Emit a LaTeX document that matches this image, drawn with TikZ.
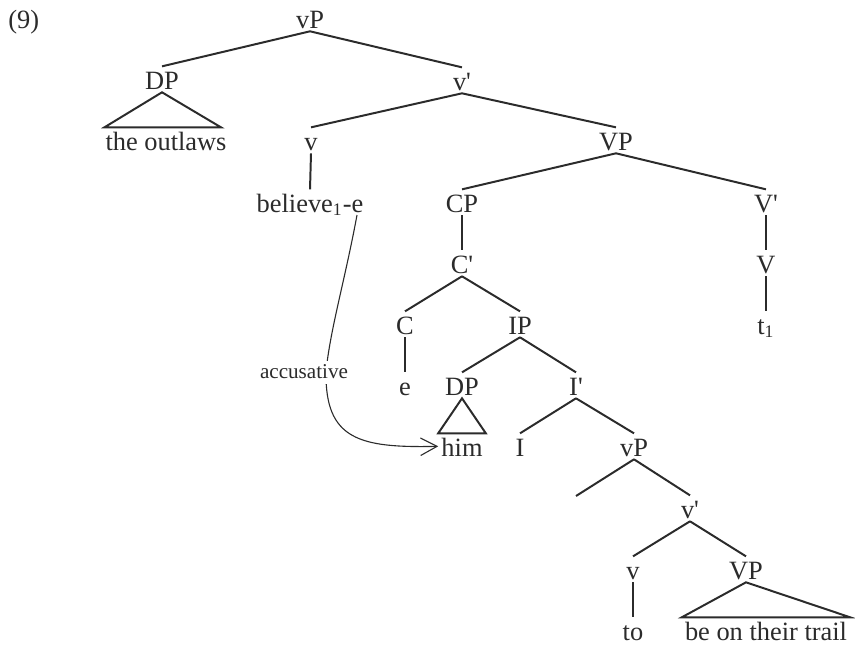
\documentclass[tikz,border=0pt]{standalone}
\usepackage{fontspec}
\setmainfont{Liberation Serif}
\usepackage{tikz}
\usetikzlibrary{arrows.meta}
\definecolor{ink}{HTML}{2B2B2B}

\begin{document}
\begin{tikzpicture}[x=0.4545pt, y=-0.4545pt, color=ink,
    font=\fontsize{12}{14}\selectfont,
    cat/.style={anchor=base, inner sep=1.3pt, text height=8.8pt, text depth=0pt},
    branch/.style={line width=0.9pt}]
  \useasboundingbox (0,0) rectangle (855,646);
  \node[anchor=base west, inner sep=0pt] (exno) at (8,28) {(9)};
  % upper part
  \node[cat] (vp1) at (310,28) {vP};
  \node[cat] (dp1) at (162,89) {DP};
  \node[cat] (vbar1) at (462,90) {v\textquotesingle};
  \node[cat] (outlaws) at (166,150) {the outlaws};
  \node[cat] (v1) at (311,150) {v};
  \node[cat] (believe) at (310,212) {believe\textsubscript{1}-e};
  \node[cat] (VP1) at (616,150) {VP};
  \node[cat] (cp) at (462,212) {CP};
  \node[cat] (Vbar) at (766,212) {V\textquotesingle};
  \node[cat] (V) at (766,273) {V};
  \node[cat] (trace) at (766,334) {t\textsubscript{1}};
  % embedded clause
  \node[cat] (cbar) at (462,273) {C\textquotesingle};
  \node[cat] (c) at (405,334) {C};
  \node[cat] (ip) at (520,334) {IP};
  \node[cat] (cnull) at (405,395) {e};
  \node[cat] (dp2) at (462,395) {DP};
  \node[cat] (ibar) at (576,395) {I\textquotesingle};
  \node[cat] (him) at (462,456) {him};
  \node[cat] (i) at (520,456) {I};
  \node[cat] (vp2) at (634,456) {vP};
  \coordinate (spec) at (576,496);
  \node[cat] (vbar2) at (690,518) {v\textquotesingle};
  \node[cat] (v2) at (633,579) {v};
  \node[cat] (VP2) at (746,579) {VP};
  \node[cat] (to) at (633,640) {to};
  \node[cat] (trail) at (766,640) {be on their trail};

  \draw[branch] (vp1.south) -- (dp1.north);
  \draw[branch] (vp1.south) -- (vbar1.north);
  \draw[branch] (dp1.south) -- ([xshift=1pt]outlaws.north west) -- ([xshift=-4pt]outlaws.north east) -- cycle;
  \draw[branch] (vbar1.south) -- (v1.north);
  \draw[branch] (vbar1.south) -- (VP1.north);
  \draw[branch] (v1.south) -- (believe.north);
  \draw[branch] (VP1.south) -- (cp.north);
  \draw[branch] (VP1.south) -- (Vbar.north);
  \draw[branch] (Vbar.south) -- (V.north);
  \draw[branch] (V.south) -- (trace.north);
  \draw[branch] (cp.south) -- (cbar.north);
  \draw[branch] (cbar.south) -- (c.north);
  \draw[branch] (cbar.south) -- (ip.north);
  \draw[branch] (c.south) -- (cnull.north);
  \draw[branch] (ip.south) -- (dp2.north);
  \draw[branch] (ip.south) -- (ibar.north);
  \draw[branch] (dp2.south) -- (him.north west) -- (him.north east) -- cycle;
  \draw[branch] (ibar.south) -- (i.north);
  \draw[branch] (ibar.south) -- (vp2.north);
  \draw[branch] (vp2.south) -- (spec);
  \draw[branch] (vp2.south) -- (vbar2.north);
  \draw[branch] (vbar2.south) -- (v2.north);
  \draw[branch] (vbar2.south) -- (VP2.north);
  \draw[branch] (v2.south) -- (to.north);
  \draw[branch] (VP2.south) -- (trail.north west) -- (trail.north east) -- cycle;

  % case assignment
  \coordinate (belE) at (357,215);
  \draw[line width=0.5pt, -{Straight Barb[length=7.5pt,width=8pt]}]
    (belE) .. controls (345,280) and (330,330) .. (326,372)
    node[fill=white, inner sep=2pt, xshift=-10pt, font=\fontsize{9.6}{11}\selectfont] (acc) {accusative}
    .. controls (325,440) and (360,448) .. (him.west);
\end{tikzpicture}
\end{document}
